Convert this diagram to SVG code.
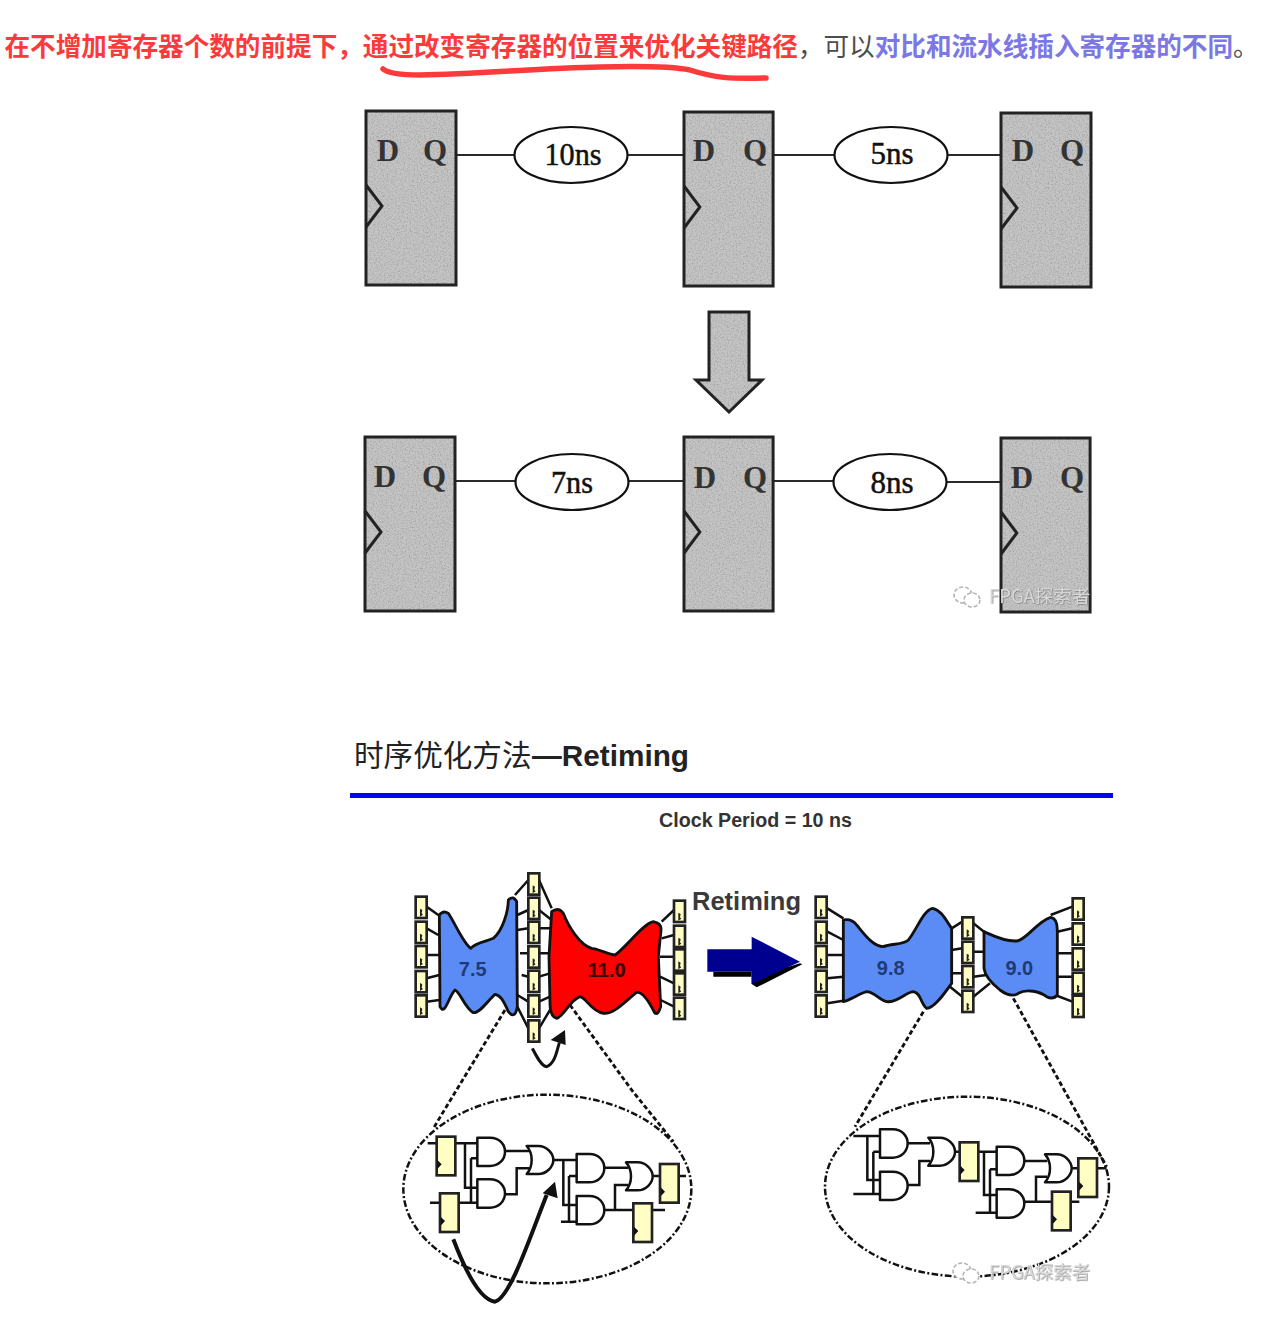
<svg xmlns="http://www.w3.org/2000/svg" width="1279" height="1335" viewBox="0 0 1279 1335">
<style>
.hd{font:bold 25.6px "Noto Sans CJK SC",sans-serif}
.lab{font:bold 31px "Liberation Serif",serif;fill:#333;text-anchor:middle}
.ns{font:32px "Liberation Serif",serif;fill:#111;stroke:#111;stroke-width:.5;text-anchor:middle}
.w{fill:none;stroke:#2a2a2a;stroke-width:2}
.body{fill:#c4c4c4;filter:url(#grain)}
.edge{fill:none;stroke:#222;stroke-width:3}
.delay{fill:#fff;stroke:#111;stroke-width:2.2}
.wz{fill:none;stroke:#111;stroke-width:7.5}
.blob{stroke:#111;stroke-width:8.5;stroke-linejoin:round}
.reg{fill:#ffffc4;stroke:#222;stroke-width:8}
.gate{fill:#fff;stroke:#111;stroke-width:7.5;stroke-linejoin:round}
.dash{fill:none;stroke:#111;stroke-width:7.5;stroke-dasharray:20 7 6 7}
.dot{fill:none;stroke:#111;stroke-width:8.5;stroke-dasharray:14 8}
.num{font:bold 60px "Liberation Sans",sans-serif;text-anchor:middle}
.wm{font:18.5px "Noto Sans CJK SC",sans-serif;fill:#d8d8d8;filter:url(#wmshadow)}
.wc{fill:#fff;stroke:#b4b4b4;stroke-width:1.6}
</style>
<defs>
<filter id="grain" x="0" y="0" width="100%" height="100%">
<feTurbulence type="fractalNoise" baseFrequency="0.7" numOctaves="2" seed="4" result="n"/>
<feColorMatrix in="n" type="matrix" values="0 0 0 0 0.3  0 0 0 0 0.3  0 0 0 0 0.3  1.8 0 0 0 -0.78" result="g"/>
<feComposite in="g" in2="SourceGraphic" operator="atop"/>
</filter>
<filter id="wmshadow" x="-5%" y="-20%" width="110%" height="140%">
<feDropShadow dx="0.5" dy="0.5" stdDeviation="0.6" flood-color="#666"/>
</filter>
<g id="ff">
<rect class="body" width="90" height="174"/>
<rect class="edge" width="90" height="174"/>
<path class="edge" d="M0,74 L16,95 L0,116"/>
</g>
<g id="rs">
<rect class="reg" width="33" height="64"/>
<path d="M13,36 L20,40 L18,50 L22,54 L13,60Z" fill="#222"/>
</g>
<g id="rl">
<rect class="reg" width="56" height="116"/>
<path d="M2,70 L15,83 L2,97Z" fill="#111"/>
</g>
<path id="and" class="gate" d="M0,0 H38 C68,0 83,22 83,42 C83,67 63,85 38,85 H0 Z"/>
<path id="or" class="gate" d="M0,0 H35 C60,0 80,22 80,42 C80,62 60,84 35,84 H0 C20,62 20,22 0,0 Z"/>
<g id="wechat">
<ellipse class="wc" cx="9" cy="8" rx="9" ry="8" stroke-dasharray="4 2"/>
<ellipse class="wc" cx="18" cy="13" rx="8" ry="7" stroke-dasharray="4 2"/>
</g>
</defs>
<rect width="1279" height="1335" fill="#fff"/>

<g id="heading">
<text class="hd" x="4.500" y="56" fill="#fc3a3c">在不增加寄存器个数的前提下，通过改变寄存器的位置来优化关键路径<tspan fill="#4d4d4d" font-weight="400">，可以</tspan><tspan fill="#7b78e6">对比和流水线插入寄存器的不同</tspan><tspan fill="#4d4d4d" font-weight="400">。</tspan></text>
<path d="M383,69 Q390,75 420,75 C480,74 540,68 600,67 C640,66 670,66 690,70 C715,78 730,79 766,78" fill="none" stroke="#fc3a3c" stroke-width="5.500" stroke-linecap="round"/>
</g>

<g id="connectors">
<path class="w" d="M456,155H515 M628,155H684 M773,155H835 M947,155H1001 M455,481H516 M628,481H684 M773,481H835 M946,482H1001"/>
</g>

<g id="ff-a1"><use href="#ff" x="366" y="111"/><text class="lab" x="388" y="161">D</text><text class="lab" x="435" y="161">Q</text></g>
<g id="ff-a2"><use href="#ff" x="684" y="112" transform="translate(684 0) scale(.99 1) translate(-684 0)"/><text class="lab" x="704" y="161">D</text><text class="lab" x="755" y="161">Q</text></g>
<g id="ff-a3"><use href="#ff" x="1001" y="113"/><text class="lab" x="1023" y="161">D</text><text class="lab" x="1072" y="161">Q</text></g>
<g id="ff-b1"><use href="#ff" x="365" y="437"/><text class="lab" x="385" y="487">D</text><text class="lab" x="434" y="487">Q</text></g>
<g id="ff-b2"><use href="#ff" x="684" y="437" transform="translate(684 0) scale(.99 1) translate(-684 0)"/><text class="lab" x="705" y="488">D</text><text class="lab" x="755" y="488">Q</text></g>
<g id="ff-b3"><use href="#ff" x="1001" y="438" transform="translate(1001 0) scale(.99 1) translate(-1001 0)"/><text class="lab" x="1022" y="488">D</text><text class="lab" x="1072" y="488">Q</text></g>

<g id="delay-10"><ellipse class="delay" cx="571" cy="155" rx="56.500" ry="28"/><text class="ns" x="573" y="165" textLength="57" lengthAdjust="spacingAndGlyphs">10ns</text></g>
<g id="delay-5"><ellipse class="delay" cx="891" cy="155" rx="56.500" ry="28"/><text class="ns" x="892" y="164" textLength="43" lengthAdjust="spacingAndGlyphs">5ns</text></g>
<g id="delay-7"><ellipse class="delay" cx="572" cy="482" rx="56.500" ry="28"/><text class="ns" x="572" y="493" textLength="42" lengthAdjust="spacingAndGlyphs">7ns</text></g>
<g id="delay-8"><ellipse class="delay" cx="890" cy="482" rx="56.500" ry="28"/><text class="ns" x="892" y="493" textLength="43" lengthAdjust="spacingAndGlyphs">8ns</text></g>

<g id="down-arrow">
<polygon points="709,312 749,312 749,380 762,380 729,412 696,380 709,380" fill="#c4c4c4" filter="url(#grain)"/>
<polygon class="edge" points="709,312 749,312 749,380 762,380 729,412 696,380 709,380"/>
</g>

<g id="wm-top">
<use href="#wechat" x="954" y="587"/>
<text class="wm" x="989" y="603">FPGA探索者</text>
</g>

<g id="title">
<text x="354" y="766" font-family="Noto Sans CJK SC,sans-serif" font-size="29.6" fill="#222">时序优化方法</text>
<text x="532" y="766" font-family="Liberation Sans,sans-serif" font-weight="700" font-size="29" fill="#222" textLength="157" lengthAdjust="spacingAndGlyphs">—Retiming</text>
<rect x="350" y="793" width="763" height="5" fill="#0505f0"/>
</g>
<text id="clock-period" x="659" y="827" font-family="Liberation Sans,sans-serif" font-weight="700" font-size="20" fill="#333" textLength="193" lengthAdjust="spacingAndGlyphs">Clock Period = 10 ns</text>
<text id="retiming" x="692" y="910" font-family="Liberation Sans,sans-serif" font-weight="700" font-size="25" fill="#3a3a3a" textLength="109" lengthAdjust="spacingAndGlyphs">Retiming</text>

<g id="left-before" transform="translate(400,860) scale(.33333)">
<path class="wz" d="M80,140L115,165 M80,205L115,225 M80,285H118 M80,355L118,345 M80,425L118,420 M345,105L385,60 M417,60L455,145 M352,165L385,150 M417,150L455,180 M352,210L385,205 M417,205H450 M360,280H385 M417,280H450 M365,345L385,350 M417,350L450,340 M352,405L385,425 M417,425L450,410 M352,440L385,505 M417,505L450,450 M785,185L822,150 M785,235L822,225 M780,290H822 M780,350L822,370 M782,420L822,440"/>
<path class="blob" fill="#5b8cf5" d="M118,165 Q130,150 145,160 C165,190 190,250 212,265 C230,245 260,245 280,235 C310,210 325,150 325,120 Q340,105 350,125 L352,440 Q345,480 325,455 C310,420 300,405 285,403 C265,420 240,460 220,458 C195,445 180,395 165,390 C145,410 135,470 120,440 Z"/>
<path class="blob" fill="#fe0000" d="M455,155 Q475,140 490,160 C505,200 540,255 575,265 C590,265 630,285 645,285 C680,260 730,190 760,185 Q785,190 783,210 L775,290 L782,440 Q775,465 765,460 C745,420 725,395 710,397 C680,420 640,465 610,460 C575,455 560,415 540,410 C510,420 490,470 470,475 Q450,470 450,430 L447,290 Z"/>
<text class="num" x="218" y="347" fill="#1f3a78">7.5</text>
<text class="num" x="620" y="350" fill="#300">11.0</text>
<use href="#rs" x="47" y="110"/><use href="#rs" x="47" y="185"/><use href="#rs" x="47" y="258"/><use href="#rs" x="47" y="333"/><use href="#rs" x="47" y="406"/>
<use href="#rs" x="385" y="40"/><use href="#rs" x="385" y="113"/><use href="#rs" x="385" y="185"/><use href="#rs" x="385" y="259"/><use href="#rs" x="385" y="332"/><use href="#rs" x="385" y="406"/><use href="#rs" x="385" y="481"/>
<use href="#rs" x="822" y="122"/><use href="#rs" x="822" y="197"/><use href="#rs" x="822" y="268"/><use href="#rs" x="822" y="340"/><use href="#rs" x="822" y="413"/>
<path d="M397,565 C410,590 425,620 440,620 C465,610 470,575 478,548" fill="none" stroke="#111" stroke-width="9"/>
<polygon points="495,510 452,540 497,555" fill="#111"/>
</g>

<g id="shift-arrow" transform="translate(400,860) scale(.33333)">
<polygon points="940,335 1055,335 1055,350 1070,350 1200,310 1207,313 1070,382 1055,372 1055,350 940,350" fill="#000"/>
<polygon points="922,268 1055,268 1055,230 1200,305 1055,372 1055,335 922,335" fill="#000090"/>
</g>

<g id="left-zoom-lines" transform="translate(390,1090) scale(.33333)">
<path class="dot" d="M345,-240L130,115 M540,-255L725,0L850,155"/>
</g>

<g id="left-detail" transform="translate(390,1090) scale(.33333)">
<ellipse class="dash" cx="472" cy="297" rx="432" ry="283"/>
<path class="wz" d="M113,160H262 M120,338H262 M225,160V293H262 M243,205H262 M243,205V335 M345,183H418 M345,313H380V235H418 M490,210H560 M520,210V345H560 M537,258H560 M537,258V395 M513,395H560 M640,233H715 M640,360H730 M675,360V285H715 M790,258H810 M867,258H888 M787,360H825"/>
<use href="#and" x="262" y="143"/><use href="#and" x="262" y="268"/><use href="#or" x="410" y="168"/>
<use href="#and" x="560" y="192"/><use href="#and" x="560" y="318"/><use href="#or" x="708" y="217"/>
<use href="#rl" x="140" y="140"/><use href="#rl" x="150" y="310"/><use href="#rl" x="810" y="222"/><use href="#rl" x="730" y="340"/>
<path d="M190,448 C225,540 270,630 315,635 C360,625 420,440 470,315" fill="none" stroke="#111" stroke-width="12"/>
<polygon points="495,275 458,310 503,325" fill="#111"/>
</g>

<g id="right-after" transform="translate(810,880) scale(.33333)">
<path class="wz" d="M52,85L100,115 M52,155L100,180 M52,225H100 M52,295L100,290 M52,370L100,362 M425,145L457,125 M490,130L522,155 M425,210L457,205 M490,215H522 M425,280H457 M490,290L530,285 M420,320L457,350 M490,350L540,310 M722,105L787,80 M742,155L787,145 M742,220H787 M742,290H787 M735,345L787,365"/>
<path class="blob" fill="#5b8cf5" d="M100,120 Q125,115 140,135 C165,165 190,200 220,200 C245,190 280,195 295,180 C320,150 340,90 368,85 C395,90 410,125 425,145 L425,310 C410,330 375,385 350,385 C330,370 335,340 310,335 C290,335 260,370 230,365 C210,360 190,335 170,335 C150,340 120,360 100,365 Z"/>
<path class="blob" fill="#5b8cf5" d="M522,155 C545,165 580,185 620,183 C650,180 680,125 722,112 Q742,115 742,150 L742,345 Q730,360 710,350 C690,335 650,325 625,340 C610,350 590,345 570,330 C545,310 525,290 522,265 Z"/>
<text class="num" x="242" y="284" fill="#1f3a78">9.8</text>
<text class="num" x="628" y="284" fill="#1f3a78">9.0</text>
<use href="#rs" x="17" y="50"/><use href="#rs" x="17" y="125"/><use href="#rs" x="17" y="198"/><use href="#rs" x="17" y="272"/><use href="#rs" x="17" y="346"/>
<use href="#rs" x="457" y="112"/><use href="#rs" x="457" y="185"/><use href="#rs" x="457" y="258"/><use href="#rs" x="457" y="332"/>
<use href="#rs" x="788" y="55"/><use href="#rs" x="788" y="130"/><use href="#rs" x="788" y="205"/><use href="#rs" x="788" y="278"/><use href="#rs" x="788" y="347"/>
<path class="dot" d="M340,395L135,740 M610,355L890,860"/>
<ellipse class="dash" cx="471" cy="920" rx="426" ry="270"/>
<path class="wz" d="M130,768H210 M172,768V900H210 M190,815H210 M190,815V942 M130,942H210 M290,790H360 M295,915H328V843H360 M435,815H447 M507,815H560 M522,815V945H560 M540,868H560 M540,868V998 M497,998H560 M640,843H712 M640,965H725 M678,965V890H712 M787,865H805 M863,865H890 M785,965H808"/>
<use href="#and" x="210" y="748"/><use href="#and" x="210" y="875"/><use href="#or" x="355" y="773"/>
<use href="#and" x="560" y="800"/><use href="#and" x="560" y="928"/><use href="#or" x="705" y="823"/>
<use href="#rl" x="449" y="787"/><use href="#rl" x="805" y="835"/><use href="#rl" x="726" y="935"/>
</g>

<g id="wm-bottom">
<use href="#wechat" x="953" y="1263"/>
<text class="wm" x="989" y="1279">FPGA探索者</text>
</g>
</svg>
